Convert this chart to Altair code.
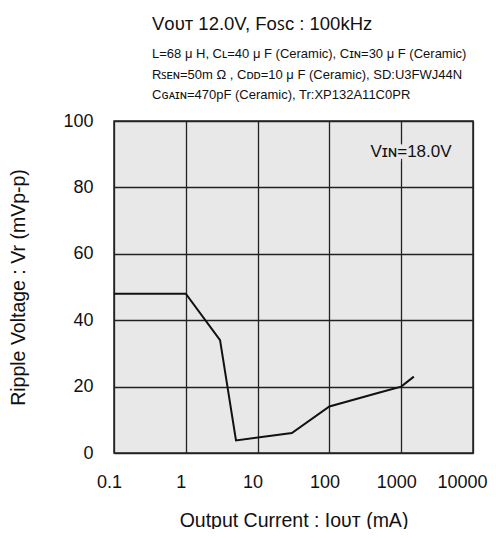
import altair as alt
import pandas as pd

# Data
current_ma = [0.1, 1, 3, 5, 30, 100, 500, 1000, 1500]
ripple_mv = [48, 48, 34, 3.8, 6, 14, 18.2, 20, 23]
x_ticks = [0.1, 1, 10, 100, 1000, 10000]
y_ticks = [0, 20, 40, 60, 80, 100]

title_main = "Vᴏᴜᴛ 12.0V, Fᴏꜱᴄ : 100kHz"
title_sub = [
    "L=68 μ H, Cʟ=40 μ F (Ceramic), Cɪɴ=30 μ F (Ceramic)",
    "Rꜱᴇɴ=50m Ω , Cᴅᴅ=10 μ F (Ceramic), SD:U3FWJ44N",
    "Cɢᴀɪɴ=470pF (Ceramic), Tr:XP132A11C0PR",
]
annotation = "Vɪɴ=18.0V"

df = pd.DataFrame({"I": current_ma, "Vr": ripple_mv})

FONT = "Liberation Sans"

x_enc = alt.X(
    "I:Q",
    scale=alt.Scale(type="log", domain=[0.1, 10000]),
    axis=alt.Axis(values=x_ticks, format="~g", title="Output Current : Iᴏᴜᴛ (mA)",
                  labelPadding=20, titlePadding=20, labelFlush=False,
                  labelOffset={"condition": {"test": "datum.value >= 10000", "value": -11}, "value": -5},
                  labelOverlap=False, titleFontSize=19.5),
)
y_enc = alt.Y(
    "Vr:Q",
    scale=alt.Scale(domain=[0, 100]),
    axis=alt.Axis(values=y_ticks, title="Ripple Voltage : Vr (mVp-p)",
                  labelPadding=21, titlePadding=34, labelFlush=False,
                  titleFontSize=19.5),
)

line = alt.Chart(df).mark_line(color="#111111", strokeWidth=2).encode(x=x_enc, y=y_enc)

ann_df = pd.DataFrame({"t": [annotation]})
halo = alt.Chart(ann_df).mark_text(
    font=FONT, fontSize=17, stroke="#e8e8e8", strokeWidth=9, fill="#e8e8e8",
    align="center", baseline="middle"
).encode(text="t:N", x=alt.value(411 - 114), y=alt.value(152 - 121))
ann = alt.Chart(ann_df).mark_text(
    font=FONT, fontSize=17, color="#111111", align="center", baseline="middle"
).encode(text="t:N", x=alt.value(411 - 114), y=alt.value(152 - 121))

chart = (
    alt.layer(line, halo, ann)
    .properties(
        width=359,
        height=332,
        autosize=alt.AutoSizeParams(type="none"),
        padding={"left": 106, "top": 113, "right": 15, "bottom": 76},
        title=alt.TitleParams(
            text=title_main,
            subtitle=title_sub,
            anchor="start",
            frame="group",
            dx=38,
            font=FONT,
            fontSize=18.5,
            fontWeight="normal",
            color="#111111",
            subtitleFont=FONT,
            subtitleFontSize=13,
            subtitleColor="#111111",
            subtitleLineHeight=20.5,
            subtitlePadding=15,
            offset=10,
        ),
    )
    .configure_view(fill="#e8e8e8", stroke="#222222", strokeWidth=1.5)
    .configure_axis(
        labelFont=FONT,
        labelFontSize=18,
        labelColor="#111111",
        titleFont=FONT,
        titleFontSize=20,
        titleFontWeight="normal",
        titleColor="#111111",
        domain=False,
        ticks=False,
        grid=True,
        gridColor="#222222",
        gridWidth=1.3,
        gridOpacity=1,
    )
)

chart.save("out.html", embed_options={"renderer": "svg", "actions": False})
